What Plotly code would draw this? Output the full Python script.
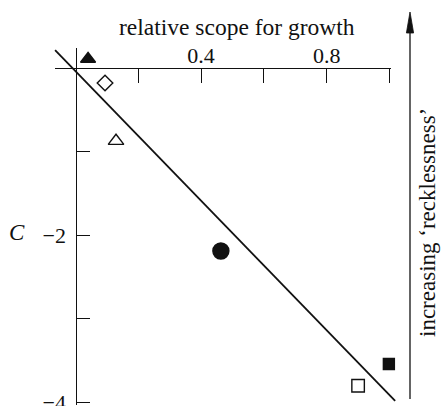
import plotly.graph_objects as go

# ---- data ---------------------------------------------------------------
# points: relative scope for growth (x) against C (y)
pt_x = [0.040, 0.094, 0.129, 0.463, 0.900, 0.998]
pt_y = [0.104, -0.183, -0.876, -2.19, -3.80, -3.54]
pt_symbol = ["triangle-up", "diamond-open", "triangle-up-open",
             "circle", "square-open", "square"]
pt_size = [13, 12, 13.5, 16, 12.5, 11]

# fitted straight line (end points)
fit_x = [-0.065, 1.018]
fit_y = [0.211, -3.98]

# axis ticks
x_ticks = [0.2, 0.4, 0.6, 0.8, 1.0]
x_ticktext = ["", "0.4", "", "0.8", ""]
y_ticks = [-4, -3, -2, -1]
y_ticktext = ["\u22124", "", "\u22122", ""]

# ---- geometry -----------------------------------------------------------
W, H = 444, 406
X0_PX, X_SCALE = 75.5, 314.0   # pixel of x=0, pixels per unit
Y0_PX, Y_SCALE = 67.7, 83.7    # pixel of y=0, pixels per unit

x_lo, x_hi = -X0_PX / X_SCALE, (W - X0_PX) / X_SCALE
y_hi, y_lo = Y0_PX / Y_SCALE, -(H - Y0_PX) / Y_SCALE


def paper_x(v):
    return (v - x_lo) / (x_hi - x_lo)


def paper_y(v):
    return (v - y_lo) / (y_hi - y_lo)


SERIF = "Liberation Serif"
BLACK = "#111111"
CLEAR = "rgba(0,0,0,0)"

fig = go.Figure()

fig.add_trace(go.Scatter(
    x=fit_x, y=fit_y, mode="lines",
    line=dict(color=BLACK, width=1.8),
    hoverinfo="skip", showlegend=False,
))

fig.add_trace(go.Scatter(
    x=pt_x, y=pt_y, mode="markers",
    marker=dict(symbol=pt_symbol, size=pt_size, color=BLACK, opacity=1,
                line=dict(color=BLACK, width=1.4)),
    cliponaxis=False, showlegend=False,
))

# empty trace so the drawn axes get their own subplot
fig.add_trace(go.Scatter(x=[], y=[], xaxis="x2", yaxis="y2",
                         showlegend=False, hoverinfo="skip"))

ax_x_lo, ax_x_hi = -0.065, 1.005
ax_y_lo, ax_y_hi = -4.025, 0.235

fig.update_layout(
    width=W, height=H, autosize=False,
    margin=dict(l=0, r=0, t=0, b=0, pad=0, autoexpand=False),
    paper_bgcolor="white", plot_bgcolor=CLEAR,
    xaxis=dict(range=[x_lo, x_hi], visible=False, fixedrange=True,
               automargin=False),
    yaxis=dict(range=[y_lo, y_hi], visible=False, fixedrange=True,
               automargin=False),
    xaxis2=dict(
        domain=[paper_x(ax_x_lo), paper_x(ax_x_hi)],
        range=[ax_x_lo, ax_x_hi],
        anchor="free", position=paper_y(0), side="top",
        showline=True, linecolor=BLACK, linewidth=1.3,
        showgrid=False, zeroline=False, automargin=False,
        ticks="inside", ticklen=14, tickwidth=1.3, tickcolor=BLACK,
        tickvals=x_ticks, ticktext=x_ticktext,
        ticklabelstandoff=-4, ticklabeloverflow="allow",
        tickfont=dict(family=SERIF, size=22, color=BLACK),
    ),
    yaxis2=dict(
        domain=[paper_y(ax_y_lo), paper_y(ax_y_hi)],
        range=[ax_y_lo, ax_y_hi],
        anchor="free", position=paper_x(0), side="left",
        showline=True, linecolor=BLACK, linewidth=1.3,
        showgrid=False, zeroline=False, automargin=False,
        ticks="inside", ticklen=13, tickwidth=1.3, tickcolor=BLACK,
        tickvals=y_ticks, ticktext=y_ticktext,
        ticklabelstandoff=5, ticklabeloverflow="allow",
        tickfont=dict(family=SERIF, size=22, color=BLACK),
    ),
)

# axis titles
fig.add_annotation(
    text="relative scope for growth", xref="paper", yref="paper",
    x=237 / W, y=1 - 27 / H, showarrow=False,
    font=dict(family=SERIF, size=23.5, color=BLACK),
    xanchor="center", yanchor="middle",
)
fig.add_annotation(
    text="<i>C</i>", xref="paper", yref="paper",
    x=17 / W, y=1 - 232 / H, showarrow=False,
    font=dict(family=SERIF, size=23, color=BLACK),
    xanchor="center", yanchor="middle",
)

# 'recklessness' arrow on the right
AX_PX = 410
fig.add_shape(type="line", xref="paper", yref="paper",
              x0=AX_PX / W, x1=AX_PX / W, y0=1 - 399 / H, y1=1 - 28 / H,
              line=dict(color=BLACK, width=1.3))
tip, back, half = 12, 33, 3.6
fig.add_shape(
    type="path", xref="paper", yref="paper",
    path=(f"M {AX_PX / W} {1 - tip / H} "
          f"L {(AX_PX + half) / W} {1 - back / H} "
          f"L {(AX_PX - half) / W} {1 - back / H} Z"),
    fillcolor=BLACK, line=dict(color=BLACK, width=0.8),
)
fig.add_annotation(
    text="increasing \u2018recklessness\u2019", xref="paper", yref="paper",
    x=427 / W, y=1 - 223 / H, showarrow=False, textangle=-90,
    font=dict(family=SERIF, size=23, color=BLACK),
    xanchor="center", yanchor="middle",
)

fig.write_html("out.html")
